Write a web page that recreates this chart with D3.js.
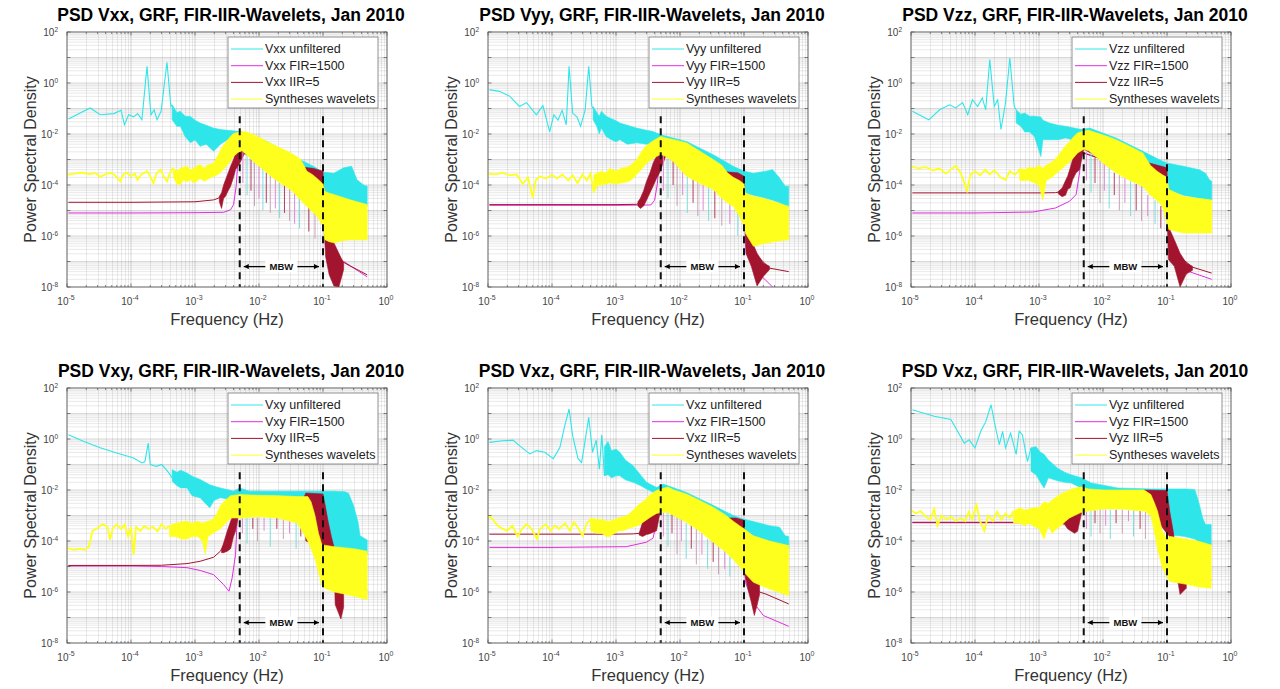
<!DOCTYPE html>
<html>
<head>
<meta charset="utf-8">
<script src="https://cdn.jsdelivr.net/npm/d3@7"></script>
<style>
  body { margin: 0; background: #fff; }
  text { font-family: Arial, "Liberation Sans", sans-serif; }
</style>
</head>
<body>
<script>
// ---- chart data: [frequency Hz, psd] or [frequency, upper, lower] ----
var panelNames = ["Vxx", "Vyy", "Vzz", "Vxy", "Vxz", "Vyz"];
var panelTitles = ["PSD Vxx, GRF, FIR-IIR-Wavelets, Jan 2010", "PSD Vyy, GRF, FIR-IIR-Wavelets, Jan 2010",
  "PSD Vzz, GRF, FIR-IIR-Wavelets, Jan 2010", "PSD Vxy, GRF, FIR-IIR-Wavelets, Jan 2010",
  "PSD Vxz, GRF, FIR-IIR-Wavelets, Jan 2010", "PSD Vxz, GRF, FIR-IIR-Wavelets, Jan 2010"];
var legendSuffix = [" unfiltered", " FIR=1500", " IIR=5"];
var waveletLabel = "Syntheses wavelets";
var xTickExp = [-5, -4, -3, -2, -1, 0];
var yTickExp = [2, 0, -2, -4, -6, -8];
var mbwLow = 0.005, mbwHigh = 0.1, mbwLevel = 6.3e-8, mbwTop = 0.05;

// Vxx
var vxxCyanLine = [[1.05e-5,0.039],[2.3e-5,0.105],[3.3e-5,0.057],[5.4e-5,0.063],[7e-5,0.085],[7.9e-5,0.023],[9.2e-5,0.057],[1.1e-4,0.047],[1.27e-4,0.063],[1.48e-4,0.036],[1.78e-4,4.5],[2.05e-4,0.057],[2.3e-4,0.089],[2.55e-4,0.036],[2.95e-4,0.078],[3.65e-4,6.5],[4.2e-4,0.12],[4.4e-4,0.14]];
var vxxCyanBand = [[4.4e-4,0.14,0.036],[5.2e-4,0.07,0.02],[5.9e-4,0.078,0.02],[7e-4,0.05,0.008],[8.5e-4,0.049,0.0045],[1e-3,0.035,0.006],[1.2e-3,0.027,0.0033],[1.5e-3,0.022,0.004],[1.95e-3,0.017,0.0021],[2.5e-3,0.015,0.004],[3.2e-3,0.014,0.006],[5.1e-3,0.0126,0.004],[1.33e-2,5.1e-3,5e-4],[3.5e-2,1.3e-3,1e-4],[7.1e-2,5.4e-4,3e-5],[0.1,3.2e-4,4.9e-5],[0.148,2.9e-4,4e-5],[0.21,4.7e-4,3e-5],[0.28,5.4e-4,2.5e-5],[0.34,1.6e-4,2e-5],[0.43,1e-4,1.6e-5],[0.49,9e-5,1.45e-5]];
var vxxYellowLine = [[1e-5,2.5e-4],[1.3e-5,2.8e-4],[1.7e-5,3e-4],[2.2e-5,2.7e-4],[2.8e-5,2.9e-4],[3.3e-5,2.1e-4],[4e-5,2.6e-4],[4.8e-5,3e-4],[5.6e-5,2.4e-4],[6.8e-5,1.4e-4],[7.6e-5,2.6e-4],[8.6e-5,3e-4],[1e-4,2.2e-4],[1.15e-4,2.8e-4],[1.26e-4,1.6e-4],[1.45e-4,2.6e-4],[1.78e-4,3.5e-4],[2e-4,2.2e-4],[2.25e-4,1.2e-4],[2.5e-4,2.8e-4],[2.9e-4,4e-4],[3.3e-4,2e-4],[3.65e-4,1.4e-4],[4.1e-4,3.2e-4],[4.6e-4,4.7e-4]];
var vxxYellowBand = [[4.6e-4,4.7e-4,2e-4],[5.2e-4,3.5e-4,1.1e-4],[5.9e-4,4.5e-4,1e-4],[6.6e-4,5e-4,1.6e-4],[7.5e-4,5.4e-4,1.3e-4],[8.5e-4,4e-4,1.6e-4],[9.5e-4,4.5e-4,1.2e-4],[1.1e-3,5.8e-4,1.5e-4],[1.2e-3,6.3e-4,1.8e-4],[1.4e-3,4.5e-4,1.4e-4],[1.55e-3,6e-4,1.6e-4],[1.8e-3,6.5e-4,2e-4],[2e-3,8e-4,2.2e-4],[2.3e-3,1.5e-3,2.6e-4],[2.6e-3,2.8e-3,3.5e-4],[3e-3,4.6e-3,5e-4],[3.5e-3,7.5e-3,8e-4],[4e-3,1.05e-2,1.3e-3],[4.6e-3,1.15e-2,1.8e-3],[5.4e-3,1.25e-2,2.2e-3],[6.5e-3,1.2e-2,1.5e-3],[8.3e-3,9.3e-3,8e-4],[1.05e-2,7e-3,5e-4],[1.33e-2,5.1e-3,3e-4],[1.7e-2,3.8e-3,1.8e-4],[2.15e-2,2.8e-3,1.2e-4],[2.8e-2,2.1e-3,8e-5],[3.5e-2,1.55e-3,5e-5],[4.5e-2,1e-3,2.5e-5],[5.6e-2,3.5e-4,1.45e-5],[6.8e-2,2.6e-4,9e-6],[8.1e-2,1.8e-4,5.9e-6],[0.1,1.1e-4,2.4e-6],[0.107,5.6e-5,7.2e-7],[0.125,4.8e-5,6e-7],[0.148,4.2e-5,5.4e-7],[0.2,3.3e-5,6.5e-7],[0.27,2.6e-5,7.2e-7],[0.36,2.1e-5,7e-7],[0.49,1.7e-5,7.2e-7]];
var vxxIirLine = [[1.05e-5,2.1e-5],[1e-4,2.1e-5],[1e-3,2.2e-5],[1.95e-3,2.6e-5],[2.3e-3,3e-5],[2.6e-3,4e-5],[3e-3,9e-5],[3.6e-3,3e-4],[4.3e-3,1e-3],[5e-3,2e-3],[1e-2,1.2e-3],[3e-2,3e-4],[0.08,1.5e-4],[0.1,1e-4],[0.12,1e-6],[0.15,3e-7],[0.2,1e-7],[0.27,6.5e-8],[0.36,4.5e-8],[0.49,3e-8]];
var vxxIirBand = [[2.4e-3,3.5e-5,2.2e-5],[2.6e-3,5e-5,1.2e-5],[2.8e-3,1e-4,3e-5],[3e-3,1.6e-4,3.6e-5],[3.3e-3,3e-4,6e-5],[3.6e-3,5.4e-4,9e-5],[4e-3,1e-3,2e-4],[4.3e-3,1.8e-3,4e-4],[5e-3,3.3e-3,7.2e-4],[6e-3,3e-3,1.8e-3],[1e-2,2.5e-3,1e-3],[2e-2,1.2e-3,3e-4],[3.5e-2,6e-4,1.5e-4],[5e-2,5e-4,1e-4],[7e-2,4.5e-4,7e-5],[0.1,3.5e-4,5e-5],[0.104,2e-5,2e-6],[0.11,2e-6,1.5e-7],[0.125,1.2e-6,3e-8],[0.148,5.4e-7,1.1e-8],[0.177,2.1e-7,1e-8],[0.21,8.7e-8,4.8e-8]];
var vxxFirLine = [[1.05e-5,8e-6],[1e-4,8e-6],[1e-3,8.2e-6],[2.8e-3,8.5e-6],[3.6e-3,1.07e-5],[4e-3,1.7e-5],[4.4e-3,9e-5],[4.7e-3,1e-3],[5e-3,2e-3],[1e-2,1e-3],[3e-2,2e-4],[0.08,1e-4],[0.1,5e-5],[0.11,1e-6],[0.13,2.1e-7],[0.23,8.7e-8],[0.49,2.5e-8]];
var vxxSpikes = [[5.6e-3,2e-3,1.2e-4],[6.5e-3,1.5e-3,4e-5],[7.5e-3,1e-3,6e-5],[8.5e-3,8e-4,1.5e-5],[1e-2,6e-4,3e-5],[1.15e-2,5e-4,1e-5],[1.3e-2,3e-4,2e-5],[1.5e-2,2.5e-4,8e-6],[1.8e-2,1.8e-4,1.2e-5],[2.1e-2,1.2e-4,5e-6],[2.5e-2,1e-4,8e-6],[3e-2,7e-5,4e-6],[3.6e-2,5e-5,3e-6],[4.3e-2,3e-5,2e-6],[6e-2,1.4e-5,1.5e-6],[7.5e-2,8e-6,8e-7]];

// Vyy
var vyyCyanLine = [[1.05e-5,0.55],[1.5e-5,0.47],[2.2e-5,0.3],[3.1e-5,0.12],[4e-5,0.17],[5.7e-5,0.057],[7.2e-5,0.13],[9.2e-5,0.012],[1.07e-4,0.057],[1.24e-4,0.035],[1.44e-4,0.085],[1.67e-4,0.023],[1.85e-4,4.5],[2.1e-4,0.066],[2.45e-4,0.047],[2.8e-4,0.02],[3.3e-4,0.089],[3.75e-4,4.5],[4.2e-4,0.12],[4.4e-4,0.1]];
var vyyCyanBand = [[4.4e-4,0.12,0.036],[5e-4,0.07,0.02],[5.5e-4,0.05,0.01],[5.9e-4,0.078,0.017],[7e-4,0.05,0.008],[8.5e-4,0.04,0.006],[1e-3,0.033,0.005],[1.15e-3,0.027,0.006],[1.5e-3,0.022,0.004],[2.1e-3,0.017,0.0045],[3e-3,0.014,0.004],[3.8e-3,0.0126,0.0045],[5e-3,9.3e-3,3e-3],[1.26e-2,5.1e-3,5e-4],[3.3e-2,1.55e-3,1e-4],[6.8e-2,5.4e-4,4e-5],[0.1,3.5e-4,4.9e-5],[0.14,2.9e-4,4e-5],[0.22,3.5e-4,3e-5],[0.28,4e-4,2.5e-5],[0.36,1.9e-4,2e-5],[0.44,9e-5,1.5e-5],[0.5,9e-5,1.4e-5]];
var vyyYellowLine = [[1e-5,2.8e-4],[1.3e-5,2.6e-4],[1.7e-5,3e-4],[2.2e-5,2.4e-4],[2.8e-5,2.6e-4],[3.5e-5,1.1e-4],[4.2e-5,2e-4],[5e-5,3.2e-5],[5.6e-5,1.6e-4],[6.5e-5,2.2e-4],[8e-5,1.8e-4],[1e-4,2.5e-4],[1.2e-4,1.8e-4],[1.45e-4,2.6e-4],[1.8e-4,1.5e-4],[2.1e-4,2.4e-4],[2.5e-4,1.2e-4],[3e-4,2.6e-4],[3.5e-4,1.5e-4],[4e-4,2.8e-4],[4.5e-4,5e-5]];
var vyyYellowBand = [[4.5e-4,2.5e-4,5e-5],[5.2e-4,3e-4,1e-4],[6e-4,3.5e-4,1e-4],[7e-4,3e-4,1.1e-4],[8e-4,4.5e-4,1.2e-4],[1e-3,3.5e-4,1.1e-4],[1.2e-3,4.5e-4,1.2e-4],[1.45e-3,5e-4,1.3e-4],[1.7e-3,6e-4,1.5e-4],[2e-3,9e-4,2.2e-4],[2.2e-3,1.2e-3,3e-4],[2.5e-3,2e-3,4e-4],[2.8e-3,3e-3,6e-4],[3.2e-3,4e-3,8e-4],[3.6e-3,5e-3,1e-3],[4.3e-3,6.5e-3,1.3e-3],[5e-3,8e-3,1.6e-3],[6e-3,7e-3,1.3e-3],[8e-3,6e-3,8e-4],[1.26e-2,4.5e-3,2.2e-4],[2e-2,2.2e-3,1.2e-4],[3.3e-2,1e-3,6.6e-5],[4.5e-2,6e-4,3e-5],[5.5e-2,3e-4,2e-5],[6.8e-2,2e-4,1.45e-5],[8.5e-2,1.5e-4,6e-6],[0.1,1.1e-4,2.4e-6],[0.105,4.9e-5,1.3e-6],[0.14,3.6e-5,4e-7],[0.2,3e-5,5e-7],[0.3,2.2e-5,6e-7],[0.5,1.45e-5,7.2e-7]];
var vyyIirLine = [[1.05e-5,1.7e-5],[1e-3,1.7e-5],[2.1e-3,1.75e-5],[2.4e-3,2e-5],[3e-3,8e-5],[3.8e-3,4e-4],[4.8e-3,2e-3],[1e-2,1e-3],[4e-2,2e-4],[0.1,1e-4],[0.11,1e-6],[0.15,2e-7],[0.25,5.5e-8],[0.5,4e-8]];
var vyyIirBand = [[2.2e-3,2.2e-5,1.5e-5],[2.4e-3,3e-5,1.2e-5],[2.7e-3,6e-5,1.5e-5],[3e-3,1.4e-4,2.5e-5],[3.4e-3,3e-4,5e-5],[3.8e-3,7.2e-4,9e-5],[4.3e-3,1.4e-3,1.8e-4],[4.8e-3,2.5e-3,3e-4],[6e-3,2.5e-3,1.4e-3],[1e-2,1.5e-3,6e-4],[2e-2,7e-4,2e-4],[4e-2,3.5e-4,8e-5],[6e-2,3.2e-4,5e-5],[8e-2,3e-4,4e-5],[0.1,2.2e-4,3.6e-5],[0.104,1.5e-5,2e-6],[0.108,1.3e-6,2e-7],[0.13,7e-7,6.5e-8],[0.16,2.1e-7,1.1e-8],[0.2,8.7e-8,2.6e-8],[0.25,6.5e-8,4.8e-8]];
var vyyFirLine = [[1.05e-5,1.6e-5],[1e-3,1.6e-5],[3.5e-3,1.65e-5],[4e-3,2.5e-5],[4.4e-3,1e-4],[4.8e-3,1e-3],[5e-3,2e-3],[1e-2,1e-3],[4e-2,2e-4],[0.1,5e-5],[0.105,1e-6],[0.108,2.1e-7],[0.19,2.6e-8],[0.28,1e-8]];
var vyySpikes = [[5.5e-3,1.5e-3,6e-5],[6.5e-3,1.2e-3,3e-5],[7.8e-3,9e-4,1e-4],[9e-3,7e-4,1.5e-5],[1.1e-2,5e-4,4e-5],[1.3e-2,2.5e-4,8e-6],[1.6e-2,2e-4,2e-5],[1.9e-2,1.5e-4,6e-6],[2.3e-2,1.2e-4,1e-5],[2.8e-2,9e-5,4e-6],[3.5e-2,6e-5,5e-6],[4.5e-2,3e-5,2.5e-6],[6e-2,2e-5,3e-6],[8e-2,8e-6,1e-6]];

// Vzz
var vzzCyanLine = [[1.05e-5,0.078],[1.9e-5,0.036],[2.8e-5,0.089],[4e-5,0.14],[5e-5,0.105],[6.4e-5,0.17],[7.7e-5,0.057],[9.1e-5,0.22],[1.1e-4,0.12],[1.3e-4,0.26],[1.47e-4,0.089],[1.7e-4,8.3],[2e-4,0.12],[2.26e-4,0.22],[2.55e-4,0.015],[3e-4,0.17],[3.5e-4,9.6],[4.1e-4,0.12],[4.4e-4,0.09]];
var vzzCyanBand = [[4.4e-4,0.089,0.027],[5.2e-4,0.06,0.02],[6e-4,0.066,0.012],[7.1e-4,0.05,0.012],[8.5e-4,0.05,0.008],[1.07e-3,0.046,0.0013],[1.15e-3,0.035,0.006],[1.45e-3,0.027,0.006],[2e-3,0.022,0.006],[2.6e-3,0.02,0.007],[4.6e-3,0.015,0.005],[6.2e-3,0.017,0.004],[1.6e-2,6.9e-3,5e-4],[4.2e-2,2.1e-3,1e-4],[8.5e-2,8.5e-4,7e-5],[0.1,7.3e-4,6.6e-5],[0.18,5.4e-4,4e-5],[0.32,4e-4,3e-5],[0.4,2.9e-4,2.8e-5],[0.46,1.6e-4,2.6e-5],[0.5,1.4e-4,2.6e-5]];
var vzzYellowLine = [[1e-5,5.4e-4],[1.3e-5,4.5e-4],[1.7e-5,5e-4],[2.2e-5,3.8e-4],[2.8e-5,4.4e-4],[3.5e-5,2.8e-4],[4.2e-5,4e-4],[5e-5,5.5e-4],[6e-5,3e-4],[7.5e-5,6e-5],[8.5e-5,2.5e-4],[1e-4,3.5e-4],[1.2e-4,2.4e-4],[1.45e-4,4e-4],[1.7e-4,2.6e-4],[2e-4,3.8e-4],[2.5e-4,2e-4],[3e-4,1.6e-4],[3.5e-4,3.5e-4],[4.2e-4,2.5e-4],[5e-4,4e-4]];
var vzzYellowBand = [[5e-4,4.5e-4,1.5e-4],[6e-4,4e-4,1.5e-4],[7e-4,5e-4,1.5e-4],[8.5e-4,4.5e-4,1.2e-4],[1e-3,6e-4,1e-4],[1.15e-3,4.5e-4,2.5e-5],[1.3e-3,6e-4,1.5e-4],[1.6e-3,8e-4,2e-4],[1.9e-3,1.2e-3,3e-4],[2.2e-3,2e-3,4e-4],[2.6e-3,3.5e-3,6e-4],[3e-3,5e-3,8e-4],[3.5e-3,8e-3,1.2e-3],[4e-3,1.1e-2,1.8e-3],[5e-3,1.3e-2,2.5e-3],[6e-3,1.4e-2,2.2e-3],[8e-3,1.1e-2,1.2e-3],[1.1e-2,8.5e-3,6e-4],[1.6e-2,6e-3,3e-4],[2.5e-2,3.5e-3,1.6e-4],[4.2e-2,1.8e-3,9e-5],[5.5e-2,6e-4,4e-5],[7e-2,3.5e-4,2.5e-5],[8.5e-2,2.5e-4,1.45e-5],[0.1,2e-4,3.2e-6],[0.107,6.6e-5,1.8e-6],[0.18,3.6e-5,1.3e-6],[0.3,3e-5,1.3e-6],[0.5,2.6e-5,1.3e-6]];
var vzzIirLine = [[1.05e-5,4.9e-5],[1e-3,4.9e-5],[1.8e-3,5e-5],[2.2e-3,5.5e-5],[2.8e-3,1.5e-4],[3.5e-3,1e-3],[4.3e-3,2e-3],[1e-2,1e-3],[5e-2,3e-4],[0.1,1e-4],[0.105,1.5e-6],[0.16,1.5e-7],[0.25,6e-8],[0.5,3.5e-8]];
var vzzIirBand = [[2e-3,5.5e-5,4.5e-5],[2.3e-3,7.6e-5,3.5e-5],[2.6e-3,1.5e-4,4e-5],[2.8e-3,2.2e-4,6.6e-5],[3.1e-3,5e-4,8e-5],[3.35e-3,1e-3,1.6e-4],[3.8e-3,2e-3,3e-4],[4.3e-3,3.3e-3,4e-4],[5e-3,3e-3,2.5e-3],[1e-2,2e-3,1e-3],[2.5e-2,1e-3,3e-4],[4e-2,8e-4,1.5e-4],[5.3e-2,7.3e-4,9e-5],[8e-2,5.5e-4,7e-5],[0.1,4.7e-4,6.6e-5],[0.102,2e-5,3e-6],[0.105,2.4e-6,1.2e-7],[0.13,7.2e-7,6.5e-8],[0.16,2.1e-7,1e-8],[0.2,8.7e-8,3.2e-8],[0.25,6.5e-8,4.5e-8]];
var vzzFirLine = [[1.05e-5,8e-6],[1e-4,8e-6],[8e-4,8.7e-6],[1.8e-3,1.25e-5],[3e-3,2.3e-5],[3.8e-3,4.2e-5],[4.3e-3,3e-4],[4.6e-3,2e-3],[1e-2,1e-3],[5e-2,2e-4],[0.1,5e-5],[0.105,6e-7],[0.18,4.8e-8],[0.5,2e-8]];
var vzzSpikes = [[5.5e-3,2e-3,1.5e-4],[6.5e-3,1.8e-3,5e-5],[7.5e-3,1.2e-3,1.2e-4],[9e-3,1e-3,2e-5],[1.05e-2,7e-4,6e-5],[1.25e-2,5e-4,1.2e-5],[1.5e-2,3e-4,4e-5],[1.8e-2,2.5e-4,1e-5],[2.2e-2,2e-4,2e-5],[2.7e-2,1.5e-4,6e-6],[3.3e-2,1.1e-4,1e-5],[4e-2,9e-5,4e-6],[5e-2,4e-5,6e-6],[6.5e-2,2.5e-5,3e-6],[8e-2,1.5e-5,2e-6]];

// Vxy
var vxyCyanLine = [[1.05e-5,1.48],[1.8e-5,0.81],[3.3e-5,0.45],[6e-5,0.28],[1.1e-4,0.18],[1.48e-4,0.115],[1.65e-4,0.13],[1.86e-4,0.69],[2e-4,0.1],[2.3e-4,0.09],[2.5e-4,0.085],[3e-4,0.1],[3.4e-4,0.072],[3.9e-4,0.047],[4.4e-4,0.03]];
var vxyCyanBand = [[4.4e-4,0.063,0.022],[5.2e-4,0.05,0.015],[6e-4,0.06,0.012],[7.5e-4,0.046,0.012],[9e-4,0.035,0.006],[1.2e-3,0.026,0.005],[1.45e-3,0.02,0.003],[1.7e-3,0.016,0.002],[2e-3,0.014,0.004],[2.5e-3,0.012,0.005],[4e-3,0.009,0.004],[5e-3,0.012,0.004],[7e-3,0.009,0.003],[1.33e-2,0.009,0.002],[4.5e-2,0.009,0.002],[0.1,0.009,5e-5],[0.148,0.009,4e-5],[0.22,0.0085,3.5e-5],[0.25,0.0075,3.2e-5],[0.3,0.0025,3.2e-5],[0.35,6e-4,3e-5],[0.38,1.6e-4,3e-5],[0.49,1.1e-4,2.9e-5]];
var vxyYellowLine = [[1e-5,5.4e-5],[1.3e-5,4.5e-5],[1.6e-5,5e-5],[1.9e-5,4.5e-5],[2.2e-5,6e-5],[2.5e-5,2.5e-4],[3e-5,3.2e-4],[3.6e-5,4.6e-4],[4.3e-5,3.5e-4],[4.7e-5,1.1e-4],[5.2e-5,3.2e-4],[6e-5,4.4e-4],[7e-5,3e-4],[8e-5,4.5e-4],[9e-5,1.5e-4],[1e-4,3.5e-4],[1.1e-4,2.9e-5],[1.2e-4,3.5e-4],[1.4e-4,2.5e-4],[1.6e-4,3.8e-4],[1.9e-4,3e-4],[2.2e-4,3.6e-4],[2.6e-4,2.4e-4],[3e-4,4.5e-4],[3.5e-4,3e-4],[4e-4,4e-4]];
var vxyYellowBand = [[4e-4,4e-4,1.5e-4],[5e-4,5e-4,1.5e-4],[6e-4,5.5e-4,1.2e-4],[7.5e-4,6e-4,1.2e-4],[9e-4,5e-4,1.5e-4],[1.1e-3,6e-4,1.5e-4],[1.3e-3,5e-4,1e-4],[1.45e-3,5.5e-4,3e-5],[1.6e-3,6e-4,1.5e-4],[1.9e-3,7e-4,2e-4],[2.2e-3,1.2e-3,2.5e-4],[2.5e-3,2.5e-3,3e-4],[3e-3,4e-3,5e-4],[3.6e-3,6e-3,8e-4],[5e-3,6.6e-3,8e-4],[1e-2,6.2e-3,9e-4],[2e-2,6e-3,8e-4],[4e-2,5.5e-3,5e-4],[5.8e-2,5.5e-3,1e-4],[6.5e-2,3.5e-3,5e-5],[7.5e-2,1e-3,2e-5],[8.5e-2,2e-4,6e-6],[9.5e-2,8e-5,2e-6],[0.1,7e-5,1.5e-6],[0.15,6e-5,1e-6],[0.3,5e-5,7e-7],[0.49,4e-5,5e-7]];
var vxyIirLine = [[1.05e-5,1.1e-5],[1e-4,1.1e-5],[3e-4,1.12e-5],[7.5e-4,1.3e-5],[1.2e-3,1.6e-5],[1.95e-3,2.3e-5],[2.5e-3,4e-5],[3e-3,1e-4],[3.6e-3,4e-4],[4.3e-3,1.2e-3],[5e-3,2.5e-3],[3e-2,2.5e-3],[0.1,1e-3],[0.148,5e-5],[0.2,1.5e-6],[0.49,1.2e-6]];
var vxyIirBand = [[2.6e-3,4.5e-5,3.5e-5],[2.8e-3,8.3e-5,3.5e-5],[3.2e-3,2.5e-4,4e-5],[3.6e-3,5.9e-4,5e-5],[4e-3,1.1e-3,1.5e-4],[4.3e-3,1.7e-3,2.4e-4],[5e-3,3e-3,2e-3],[1e-2,3.5e-3,2.5e-3],[3e-2,4e-3,2.5e-3],[5e-2,5e-3,1.2e-3],[5.4e-2,7.6e-3,1e-4],[0.1,7e-3,6e-5],[0.11,2e-3,6e-5],[0.12,6e-4,5e-5],[0.135,1.5e-4,4.5e-5],[0.148,6e-5,4e-5],[0.155,1.4e-6,3.2e-7],[0.175,1.4e-6,1.5e-7],[0.19,1.2e-6,8.7e-8],[0.21,9e-7,2.5e-7]];
var vxyFirLine = [[1.05e-5,1.05e-5],[1e-4,1.05e-5],[3e-4,1e-5],[7.5e-4,9e-6],[1.2e-3,7e-6],[1.95e-3,4.8e-6],[2.8e-3,1.95e-6],[3.4e-3,1.07e-6],[3.8e-3,3.5e-6],[4.3e-3,2.9e-5],[4.6e-3,1.07e-3],[5e-3,2.5e-3],[3e-2,2.5e-3],[0.1,1e-3],[0.148,3e-5],[0.2,1.5e-6],[0.49,1.2e-6]];
var vxySpikes = [[5.5e-3,8e-4,2e-4],[6.5e-3,8e-4,8e-5],[8e-3,8e-4,3e-4],[9.5e-3,8e-4,1e-4],[1.2e-2,8e-4,2.5e-4],[1.5e-2,8e-4,6e-5],[1.9e-2,8e-4,3e-4],[2.4e-2,7e-4,1.2e-4],[3e-2,6e-4,2e-4],[3.8e-2,5e-4,5e-5],[4.5e-2,4e-4,1.5e-4]];

// Vxz
var vxzCyanLine = [[1.05e-5,0.74],[1.7e-5,0.85],[2.45e-5,0.9],[3.1e-5,0.55],[4.5e-5,0.26],[5.7e-5,0.35],[7.7e-5,0.3],[1.05e-4,0.17],[1.33e-4,0.47],[1.58e-4,3.3],[1.85e-4,15],[2.1e-4,1.35],[2.55e-4,0.17],[2.9e-4,0.12],[3.2e-4,0.55],[3.75e-4,7.1],[4.3e-4,0.3],[4.9e-4,0.9],[5.5e-4,0.066],[6e-4,1.45],[6.6e-4,0.036]];
var vxzCyanBand = [[6.6e-4,0.5,0.036],[7.5e-4,0.8,0.04],[8.5e-4,0.35,0.03],[1e-3,0.4,0.036],[1.15e-3,0.3,0.036],[1.4e-3,0.15,0.025],[1.85e-3,0.089,0.02],[2.4e-3,0.04,0.015],[3e-3,0.02,0.011],[4.3e-3,0.0126,0.007],[5.5e-3,0.017,0.005],[1.26e-2,8e-3,8e-4],[3.3e-2,2.5e-3,2e-4],[6.8e-2,1e-3,1.2e-4],[0.1,7.2e-4,1e-4],[0.25,4e-4,7e-5],[0.36,3.5e-4,5.5e-5],[0.44,1.6e-4,5e-5],[0.5,1.5e-4,4.9e-5]];
var vxzYellowLine = [[1e-5,1e-3],[1.2e-5,7e-4],[1.4e-5,4e-4],[1.7e-5,3e-4],[2e-5,2.5e-4],[2.4e-5,4e-4],[2.9e-5,1.5e-4],[3.4e-5,3e-4],[4e-5,4.5e-4],[4.8e-5,3e-4],[5.8e-5,1.2e-4],[6.5e-5,3e-4],[8e-5,4.5e-4],[9.5e-5,2.5e-4],[1.1e-4,4e-4],[1.3e-4,3e-4],[1.6e-4,5e-4],[1.9e-4,2.5e-4],[2.2e-4,5.5e-4],[2.6e-4,3e-4],[3e-4,1.6e-4],[3.5e-4,5e-4],[4e-4,7e-4]];
var vxzYellowBand = [[4e-4,8e-4,2.5e-4],[5e-4,7e-4,2e-4],[6e-4,7e-4,2e-4],[7e-4,6e-4,1.5e-4],[8e-4,6e-4,1.5e-4],[9.5e-4,7e-4,2e-4],[1.1e-3,8e-4,2.5e-4],[1.3e-3,9e-4,2.5e-4],[1.5e-3,1e-3,3e-4],[1.8e-3,1.5e-3,3.5e-4],[2.2e-3,2.5e-3,4e-4],[2.8e-3,4e-3,6e-4],[3.3e-3,6e-3,8e-4],[3.8e-3,8e-3,1e-3],[4.3e-3,9.5e-3,1.2e-3],[5e-3,1.1e-2,1.3e-3],[6.5e-3,1.3e-2,1.3e-3],[8e-3,1e-2,1e-3],[1.26e-2,6.9e-3,5.4e-4],[2e-2,4e-3,2.5e-4],[3.3e-2,2.1e-3,9e-5],[5e-2,1.1e-3,4e-5],[6.8e-2,6e-4,1.9e-5],[8.5e-2,4e-4,1e-5],[0.1,3e-4,5.9e-6],[0.14,1.6e-4,2.4e-6],[0.25,1e-4,1.3e-6],[0.5,6.6e-5,7.2e-7]];
var vxzIirLine = [[1.05e-5,1.85e-4],[1e-3,1.85e-4],[1.85e-3,1.9e-4],[2.3e-3,2e-4],[3e-3,4e-4],[4.3e-3,1e-3],[5e-3,2e-3],[3e-2,5e-4],[0.1,3e-4],[0.11,5e-6],[0.175,1e-6],[0.22,8.3e-7],[0.5,3.4e-7]];
var vxzIirBand = [[2.3e-3,2e-4,1.7e-4],[2.6e-3,5.4e-4,1.5e-4],[3e-3,7e-4,1.8e-4],[3.3e-3,1e-3,1.9e-4],[3.8e-3,1.4e-3,2.2e-4],[4.3e-3,1.8e-3,2.5e-4],[5e-3,2.5e-3,1.8e-3],[1e-2,2.2e-3,1.5e-3],[3e-2,1e-3,3e-4],[5.5e-2,8e-4,2e-4],[7.5e-2,8e-4,2.2e-4],[0.1,6.5e-4,2.2e-4],[0.103,5e-5,5e-6],[0.115,8e-6,1.3e-6],[0.13,6e-6,4e-7],[0.145,5e-6,1.2e-7],[0.16,4e-6,3e-7],[0.175,2.4e-6,8e-7]];
var vxzFirLine = [[1.05e-5,5.6e-5],[1e-4,5.6e-5],[1.45e-3,6e-5],[3e-3,9e-5],[3.8e-3,1.3e-4],[4.5e-3,1e-3],[5e-3,2e-3],[3e-2,5e-4],[0.1,2e-4],[0.105,2.4e-6],[0.14,4e-7],[0.2,1.2e-7],[0.5,4.5e-8]];
var vxzSpikes = [[5.5e-3,1.3e-3,1.5e-4],[6.5e-3,1.3e-3,6e-5],[7.5e-3,1.2e-3,2e-4],[9e-3,9e-4,3e-5],[1.05e-2,7e-4,1e-4],[1.25e-2,5e-4,2e-5],[1.5e-2,4e-4,5e-5],[1.8e-2,3e-4,1.2e-5],[2.2e-2,2e-4,3e-5],[2.7e-2,1.2e-4,8e-6],[3.3e-2,9e-5,1.5e-5],[4e-2,6e-5,5e-6],[5e-2,4e-5,8e-6],[6e-2,2.5e-5,4e-6]];

// Vyz
var vyzCyanLine = [[1.05e-5,14],[2.3e-5,7.8],[4.2e-5,5.8],[6.8e-5,0.69],[8.1e-5,0.93],[1e-4,0.45],[1.23e-4,2],[1.48e-4,4.9],[1.78e-4,22],[2.05e-4,3.6],[2.4e-4,0.6],[2.7e-4,2],[3e-4,0.45],[3.6e-4,1.7],[4.4e-4,0.25],[4.9e-4,2],[5.5e-4,1.48],[6.6e-4,0.13],[7.5e-4,0.45]];
var vyzCyanBand = [[7.5e-4,0.45,0.054],[9e-4,0.5,0.04],[1.05e-3,0.3,0.02],[1.2e-3,0.25,0.012],[1.4e-3,0.15,0.03],[1.95e-3,0.072,0.023],[2.5e-3,0.05,0.02],[3.16e-3,0.04,0.019],[4.6e-3,0.03,0.012],[6.5e-3,0.019,0.008],[1.7e-2,0.012,0.005],[5.6e-2,0.011,0.004],[0.1,0.011,1.8e-4],[0.19,0.011,1.5e-4],[0.27,0.0105,1.2e-4],[0.3,0.0049,1e-4],[0.33,0.002,8e-5],[0.36,8e-4,7e-5],[0.4,4.4e-4,7e-5],[0.49,4.4e-4,7e-5]];
var vyzYellowLine = [[1e-5,1.6e-3],[1.2e-5,1.2e-3],[1.4e-5,1.5e-3],[1.7e-5,9e-4],[2e-5,7e-4],[2.3e-5,1.8e-3],[2.6e-5,4e-4],[3e-5,1e-3],[3.6e-5,7e-4],[4.2e-5,9e-4],[5e-5,6e-4],[6e-5,8e-4],[7e-5,6e-4],[8e-5,1.4e-3],[9e-5,7e-4],[1.05e-4,2.6e-3],[1.2e-4,6e-4],[1.4e-4,2.5e-4],[1.6e-4,1e-3],[1.9e-4,6e-4],[2.2e-4,1.4e-3],[2.6e-4,7e-4],[3e-4,1.2e-3],[3.5e-4,8e-4],[4e-4,1.5e-3]];
var vyzYellowBand = [[4e-4,1.5e-3,5e-4],[5e-4,2e-3,5e-4],[6e-4,1.6e-3,4e-4],[7e-4,1.8e-3,5e-4],[8e-4,2e-3,4e-4],[1e-3,2e-3,3e-4],[1.2e-3,3.5e-3,1.2e-4],[1.4e-3,3e-3,4e-4],[1.6e-3,4e-3,2e-4],[1.9e-3,5.5e-3,3e-4],[2.2e-3,7e-3,4e-4],[2.6e-3,8.5e-3,6e-4],[3e-3,1e-2,8e-4],[3.6e-3,1.2e-2,1e-3],[4.5e-3,1.3e-2,1.3e-3],[6e-3,1.1e-2,1.5e-3],[1e-2,1e-2,1.8e-3],[2e-2,1e-2,1.8e-3],[3e-2,1e-2,1.6e-3],[4.4e-2,1e-2,1.5e-3],[5.6e-2,6.6e-3,1e-3],[6.4e-2,3e-3,2e-4],[7.1e-2,1.5e-3,5e-5],[8.5e-2,2.4e-4,8.7e-6],[0.1,1.2e-4,4e-6],[0.11,1.5e-4,2.6e-6],[0.2,1.2e-4,2e-6],[0.3,1e-4,1.6e-6],[0.49,7e-5,1.4e-6]];
var vyzIirLine = [[1.05e-5,5.4e-4],[1e-3,5.4e-4],[2.2e-3,5.5e-4],[3e-3,9e-4],[4e-3,2e-3],[5e-3,4e-3],[5e-2,4e-3],[0.1,2e-3],[0.13,1e-4],[0.2,5e-6],[0.49,3e-6]];
var vyzIirBand = [[2.2e-3,6e-4,4.8e-4],[2.5e-3,7e-4,4.5e-4],[2.8e-3,1e-3,3e-4],[3.2e-3,1.4e-3,2.4e-4],[3.6e-3,2.5e-3,2e-4],[4e-3,3.6e-3,2.4e-4],[5e-3,5e-3,3e-3],[1e-2,6e-3,3.5e-3],[3e-2,6e-3,3.5e-3],[4.4e-2,1e-2,2.5e-3],[0.1,9.5e-3,2e-4],[0.11,1.5e-3,1.5e-4],[0.125,2.4e-4,1.5e-4],[0.135,5e-5,1e-5],[0.16,8.7e-6,8e-7],[0.2,8e-6,1.4e-6]];
var vyzFirLine = [[1.05e-5,5.2e-4],[1e-3,5.2e-4],[2.5e-3,5.3e-4],[3.5e-3,6e-4],[4.2e-3,1.2e-3],[5e-3,4e-3],[5e-2,4e-3],[0.1,1e-3],[0.12,5e-5],[0.2,4e-6],[0.49,3e-6]];
var vyzSpikes = [[5.5e-3,1.5e-3,3e-4],[6.5e-3,1.5e-3,1.5e-4],[7.5e-3,1.6e-3,5e-4],[9e-3,1.7e-3,2e-4],[1.1e-2,1.7e-3,4e-4],[1.3e-2,1.7e-3,1.2e-4],[1.6e-2,1.7e-3,5e-4],[2e-2,1.7e-3,2e-4],[2.5e-2,1.6e-3,6e-4],[3e-2,1.6e-3,1.5e-4],[3.8e-2,1.5e-3,3e-4],[4.6e-2,1.4e-3,1.2e-4]];

var cyanLines = [vxxCyanLine, vyyCyanLine, vzzCyanLine, vxyCyanLine, vxzCyanLine, vyzCyanLine];
var cyanBands = [vxxCyanBand, vyyCyanBand, vzzCyanBand, vxyCyanBand, vxzCyanBand, vyzCyanBand];
var yellowLines = [vxxYellowLine, vyyYellowLine, vzzYellowLine, vxyYellowLine, vxzYellowLine, vyzYellowLine];
var yellowBands = [vxxYellowBand, vyyYellowBand, vzzYellowBand, vxyYellowBand, vxzYellowBand, vyzYellowBand];
var iirLines = [vxxIirLine, vyyIirLine, vzzIirLine, vxyIirLine, vxzIirLine, vyzIirLine];
var iirBands = [vxxIirBand, vyyIirBand, vzzIirBand, vxyIirBand, vxzIirBand, vyzIirBand];
var firLines = [vxxFirLine, vyyFirLine, vzzFirLine, vxyFirLine, vxzFirLine, vyzFirLine];
var spikeSets = [vxxSpikes, vyySpikes, vzzSpikes, vxySpikes, vxzSpikes, vyzSpikes];

// ---- layout ----
var w = 1280, h = 689;
var pw = 320, ph = 255;
var colLeft = [67, 488, 911];
var rowTop = [32, 388];

var cCyan = "#2ee6ea", cMag = "#e22ee2", cRed = "#a3142e", cYel = "#ffff1e";
var spikeColors = ["#e08ad8", "#7fdcdc", "#b04060", "#c9a0b8"];

var svg = d3.select("body").append("svg")
  .attr("width", w)
  .attr("height", h);

var defs = svg.append("defs");
defs.append("clipPath").attr("id", "plotClip")
  .append("rect").attr("width", pw).attr("height", ph);
defs.append("marker").attr("id", "arrowHead")
  .attr("viewBox", "0 0 10 10").attr("refX", 10).attr("refY", 5)
  .attr("markerWidth", 7).attr("markerHeight", 5).attr("markerUnits", "userSpaceOnUse")
  .attr("orient", "auto-start-reverse")
  .append("path").attr("d", "M0,0L10,5L0,10z").attr("fill", "#000");

var x = d3.scaleLog().domain([1e-5, 1]).range([0, pw]);
var y = d3.scaleLog().domain([1e-8, 1e2]).range([ph, 0]);

var line = d3.line().x(function(d){ return x(d[0]); }).y(function(d){ return y(d[1]); });
var band = d3.area().x(function(d){ return x(d[0]); })
  .y0(function(d){ return y(d[2]); })
  .y1(function(d){ return y(d[1]); });

// minor values for grid and ticks
var xMinor = [], yMinor = [];
for (var e = -5; e < 0; e++) for (var k = 2; k < 10; k++) xMinor.push(k * Math.pow(10, e));
for (var e2 = -8; e2 < 2; e2++) for (var k2 = 2; k2 < 10; k2++) yMinor.push(k2 * Math.pow(10, e2));
var xMajor = d3.range(-5, 1).map(function(p){ return Math.pow(10, p); });
var yMajor = d3.range(-8, 3).map(function(p){ return Math.pow(10, p); });

function drawPanel(i) {
  var g = svg.append("g")
    .attr("transform", "translate(" + colLeft[i % 3] + "," + rowTop[Math.floor(i / 3)] + ")");
  var name = panelNames[i];

  // grid
  var grid = g.append("g");
  grid.selectAll(".xm").data(xMinor).enter().append("line")
    .attr("x1", function(d){ return Math.round(x(d)) + 0.5; }).attr("x2", function(d){ return Math.round(x(d)) + 0.5; })
    .attr("y1", 0).attr("y2", ph)
    .attr("stroke", "#000").attr("stroke-opacity", 0.08);
  grid.selectAll(".ym").data(yMinor).enter().append("line")
    .attr("y1", function(d){ return y(d); }).attr("y2", function(d){ return y(d); })
    .attr("x1", 0).attr("x2", pw)
    .attr("stroke", "#000").attr("stroke-opacity", 0.09);
  grid.selectAll(".xM").data(xMajor).enter().append("line")
    .attr("x1", function(d){ return x(d); }).attr("x2", function(d){ return x(d); })
    .attr("y1", 0).attr("y2", ph)
    .attr("stroke", "#000").attr("stroke-opacity", 0.15);
  grid.selectAll(".yM").data(yMajor).enter().append("line")
    .attr("y1", function(d){ return y(d); }).attr("y2", function(d){ return y(d); })
    .attr("x1", 0).attr("x2", pw)
    .attr("stroke", "#000").attr("stroke-opacity", 0.15);

  // series, drawn in the original plotting order
  var plot = g.append("g").attr("clip-path", "url(#plotClip)");
  plot.append("path").datum(cyanBands[i]).attr("d", band)
    .attr("fill", cCyan).attr("stroke", cCyan).attr("stroke-width", 0.6);
  plot.append("path").datum(cyanLines[i]).attr("d", line)
    .attr("fill", "none").attr("stroke", cCyan).attr("stroke-width", 1.1);
  plot.append("path").datum(firLines[i]).attr("d", line)
    .attr("fill", "none").attr("stroke", cMag).attr("stroke-width", 1);
  plot.append("path").datum(iirBands[i]).attr("d", band)
    .attr("fill", cRed).attr("stroke", cRed).attr("stroke-width", 0.6);
  plot.append("path").datum(iirLines[i]).attr("d", line)
    .attr("fill", "none").attr("stroke", cRed).attr("stroke-width", 1);
  // thin dips of the filtered spectra that poke below the wavelet band
  plot.selectAll(".spike").data(spikeSets[i]).enter().append("line")
    .attr("x1", function(d){ return x(d[0]); }).attr("x2", function(d){ return x(d[0]); })
    .attr("y1", function(d){ return y(d[1]); }).attr("y2", function(d){ return y(d[2]); })
    .attr("stroke", function(d, j){ return spikeColors[j % spikeColors.length]; })
    .attr("stroke-width", 1);
  plot.append("path").datum(yellowBands[i]).attr("d", band)
    .attr("fill", cYel).attr("stroke", cYel).attr("stroke-width", 0.6);
  plot.append("path").datum(yellowLines[i]).attr("d", line)
    .attr("fill", "none").attr("stroke", cYel).attr("stroke-width", 1.8);

  // MBW markers
  [mbwLow, mbwHigh].forEach(function(f){
    g.append("line")
      .attr("x1", x(f)).attr("x2", x(f))
      .attr("y1", y(mbwTop)).attr("y2", ph)
      .attr("stroke", "#111").attr("stroke-width", 2)
      .attr("stroke-dasharray", "7,5");
  });
  g.append("line")
    .attr("x1", x(mbwLow) + 4).attr("x2", x(mbwHigh) - 4)
    .attr("y1", y(mbwLevel)).attr("y2", y(mbwLevel))
    .attr("stroke", "#000").attr("stroke-width", 1.2)
    .attr("marker-start", "url(#arrowHead)").attr("marker-end", "url(#arrowHead)");
  var mid = x(Math.sqrt(mbwLow * mbwHigh));
  g.append("rect").attr("x", mid - 16).attr("y", y(mbwLevel) - 6)
    .attr("width", 32).attr("height", 12).attr("fill", "#fff");
  g.append("text").attr("x", mid).attr("y", y(mbwLevel) + 3.5)
    .attr("text-anchor", "middle").attr("font-size", 9.5).attr("font-weight", "bold")
    .attr("fill", "#111").text("MBW");

  // box and ticks
  g.append("rect").attr("width", pw).attr("height", ph)
    .attr("fill", "none").attr("stroke", "#555").attr("stroke-width", 0.8);
  var ticks = g.append("g").attr("stroke", "#555").attr("stroke-width", 0.7);
  xMajor.forEach(function(d){
    ticks.append("line").attr("x1", x(d)).attr("x2", x(d)).attr("y1", ph).attr("y2", ph - 3.5);
    ticks.append("line").attr("x1", x(d)).attr("x2", x(d)).attr("y1", 0).attr("y2", 3.5);
  });
  xMinor.forEach(function(d){
    ticks.append("line").attr("x1", x(d)).attr("x2", x(d)).attr("y1", ph).attr("y2", ph - 2);
    ticks.append("line").attr("x1", x(d)).attr("x2", x(d)).attr("y1", 0).attr("y2", 2);
  });
  yMajor.forEach(function(d){
    ticks.append("line").attr("y1", y(d)).attr("y2", y(d)).attr("x1", 0).attr("x2", 3.5);
    ticks.append("line").attr("y1", y(d)).attr("y2", y(d)).attr("x1", pw).attr("x2", pw - 3.5);
  });

  // tick labels
  xTickExp.forEach(function(p){
    var t = g.append("text").attr("x", x(Math.pow(10, p)) - 1).attr("y", ph + 18)
      .attr("text-anchor", "middle").attr("fill", "#444").attr("font-size", 10);
    t.append("tspan").text("10");
    t.append("tspan").attr("dy", -5).attr("font-size", 7).text(p);
  });
  yTickExp.forEach(function(p){
    var t = g.append("text").attr("x", -9).attr("y", y(Math.pow(10, p)) + 3.5)
      .attr("text-anchor", "end").attr("fill", "#444").attr("font-size", 10);
    t.append("tspan").text("10");
    t.append("tspan").attr("dy", -4).attr("font-size", 6.5).text(p);
  });

  // titles
  g.append("text").attr("x", pw / 2 + 4).attr("y", -11)
    .attr("text-anchor", "middle").attr("font-size", 17.5).attr("font-weight", "bold")
    .attr("fill", "#000").text(panelTitles[i]);
  g.append("text").attr("x", pw / 2).attr("y", ph + 38)
    .attr("text-anchor", "middle").attr("font-size", 16.5)
    .attr("fill", "#333").text("Frequency (Hz)");
  g.append("text")
    .attr("transform", "translate(-31," + (ph / 2) + ") rotate(-90)")
    .attr("text-anchor", "middle").attr("font-size", 16)
    .attr("fill", "#333").text("Power Spectral Density");

  // legend
  var lg = g.append("g").attr("transform", "translate(" + (pw - 159) + ",5)");
  lg.append("rect").attr("width", 150).attr("height", 71)
    .attr("fill", "#fff").attr("stroke", "#777").attr("stroke-width", 0.8);
  var entries = [
    [name + legendSuffix[0], cCyan],
    [name + legendSuffix[1], cMag],
    [name + legendSuffix[2], cRed],
    [waveletLabel, cYel]
  ];
  entries.forEach(function(en, j){
    var ry = 12 + j * 16.7;
    lg.append("line").attr("x1", 3).attr("x2", 35).attr("y1", ry).attr("y2", ry)
      .attr("stroke", en[1]).attr("stroke-width", 1);
    lg.append("text").attr("x", 37).attr("y", ry + 4)
      .attr("font-size", 12.5).attr("fill", "#222").text(en[0]);
  });
}

for (var i = 0; i < 6; i++) drawPanel(i);
</script>
</body>
</html>
